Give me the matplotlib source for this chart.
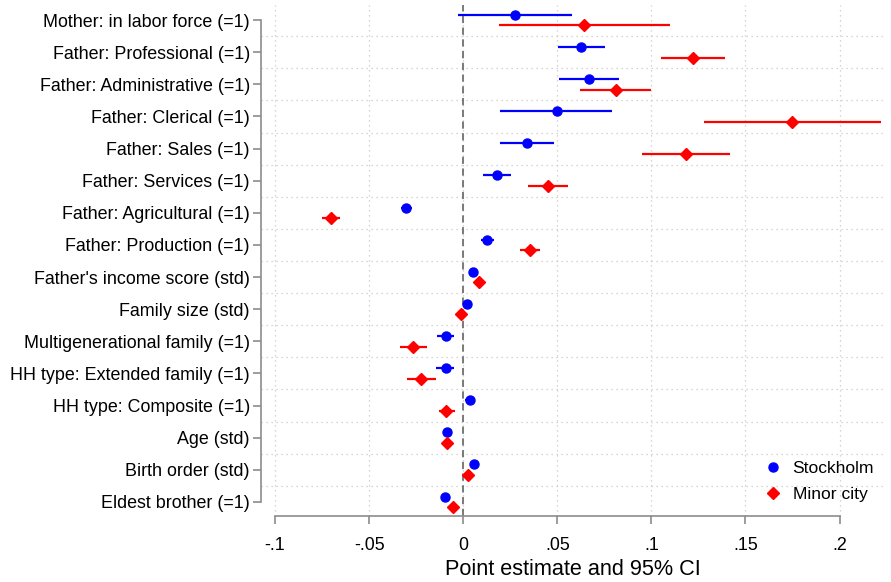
import matplotlib
matplotlib.use("Agg")
import matplotlib.pyplot as plt
import numpy as np

plt.rcParams['font.family'] = ['Liberation Sans', 'DejaVu Sans']

categories = [
    "Mother: in labor force (=1)",
    "Father: Professional (=1)",
    "Father: Administrative (=1)",
    "Father: Clerical (=1)",
    "Father: Sales (=1)",
    "Father: Services (=1)",
    "Father: Agricultural (=1)",
    "Father: Production (=1)",
    "Father's income score (std)",
    "Family size (std)",
    "Multigenerational family (=1)",
    "HH type: Extended family (=1)",
    "HH type: Composite (=1)",
    "Age (std)",
    "Birth order (std)",
    "Eldest brother (=1)",
]

# Stockholm: point estimate, lower and upper 95% CI
sthlm_est = [0.0275, 0.0628, 0.0669, 0.0496, 0.0340, 0.0179, -0.0303, 0.0129,
             0.0050, 0.0020, -0.0090, -0.0092, 0.0034, -0.0087, 0.0060, -0.0096]
sthlm_lo = [-0.0030, 0.0502, 0.0509, 0.0197, 0.0197, 0.0105, -0.0333, 0.0096,
            0.0040, 0.0012, -0.0138, -0.0143, 0.0009, -0.0097, 0.0050, -0.0106]
sthlm_hi = [0.0580, 0.0753, 0.0829, 0.0792, 0.0482, 0.0254, -0.0271, 0.0166,
            0.0060, 0.0028, -0.0048, -0.0050, 0.0057, -0.0077, 0.0070, -0.0086]

# Minor city: point estimate, lower and upper 95% CI
minor_est = [0.0643, 0.1220, 0.0812, 0.1747, 0.1184, 0.0449, -0.0704, 0.0354,
             0.0082, -0.0010, -0.0265, -0.0223, -0.0089, -0.0087, 0.0023, -0.0055]
minor_lo = [0.0188, 0.1052, 0.0623, 0.1280, 0.0950, 0.0342, -0.0749, 0.0301,
            0.0070, -0.0020, -0.0335, -0.0300, -0.0130, -0.0100, 0.0012, -0.0076]
minor_hi = [0.1097, 0.1390, 0.1000, 0.2220, 0.1420, 0.0559, -0.0655, 0.0409,
            0.0094, 0.0000, -0.0191, -0.0142, -0.0043, -0.0074, 0.0034, -0.0032]

xticks = [-0.1, -0.05, 0, 0.05, 0.1, 0.15, 0.2]
xtick_labels = ["-.1", "-.05", "0", ".05", ".1", ".15", ".2"]

fig = plt.figure(figsize=(8.91, 5.82), dpi=100)
ax = fig.add_axes([0.293, 0.1134, 0.7, 0.878])

n = len(categories)
ypos = -np.arange(n)
off = 0.165

blue = "#0000ff"
red = "#ff0000"
grid_c = "#c8c8c8"
axis_c = "#8c8c8c"

# grid: vertical dotted lines at ticks and separators between rows
for xt in xticks:
    ax.axvline(xt, color=grid_c, lw=0.9, ls=(0, (1, 3)), zorder=0)
for i in range(n - 1):
    ax.axhline(-i - 0.5, color=grid_c, lw=0.9, ls=(0, (1, 3)), zorder=0)

ax.axvline(0, color="#707070", lw=1.3, ls=(0, (4, 2.5)), zorder=1)

ax.hlines(ypos + off, sthlm_lo, sthlm_hi, color=blue, lw=1.6, zorder=2)
ax.hlines(ypos - off, minor_lo, minor_hi, color=red, lw=1.6, zorder=2)
ax.plot(sthlm_est, ypos + off, ls="none", marker="o", ms=6.5, color=blue,
        zorder=3, label="Stockholm")
ax.plot(minor_est, ypos - off, ls="none", marker="D", ms=6.5, color=red,
        zorder=3, label="Minor city")

ax.set_xlim(-0.1074, 0.224)
ax.set_ylim(-15.44, 0.47)

ax.set_yticks(ypos)
ax.set_yticklabels(categories, fontsize=12.9)
ax.set_xticks(xticks)
ax.set_xticklabels(xtick_labels, fontsize=12.9)
ax.set_xlabel("Point estimate and 95% CI", fontsize=15.6, labelpad=4)

for s in ["top", "right"]:
    ax.spines[s].set_visible(False)
for s in ["left", "bottom"]:
    ax.spines[s].set_color(axis_c)
    ax.spines[s].set_linewidth(1.2)
ax.spines["left"].set_bounds(-(n - 1), 0)
ax.spines["bottom"].set_bounds(-0.1, 0.2)
ax.tick_params(axis="both", colors=axis_c, length=6, width=1.2, labelcolor="black")
ax.tick_params(axis="y", pad=2)
ax.tick_params(axis="x", pad=9)

ax.legend(loc="lower right", bbox_to_anchor=(1.008, -0.004), frameon=False,
          fontsize=12.6, handletextpad=0.5, labelspacing=0.65, handlelength=1.2)

fig.savefig("out.png", dpi=100)
